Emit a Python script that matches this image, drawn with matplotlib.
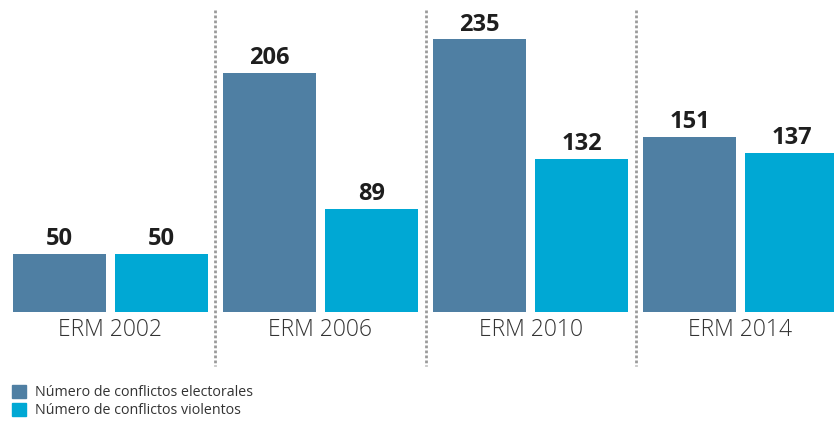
import numpy as np
import matplotlib.pyplot as plt
from matplotlib.patches import Rectangle

categories = ['ERM 2002', 'ERM 2006', 'ERM 2010', 'ERM 2014']
electorales = [50, 206, 235, 151]
violentos = [50, 89, 132, 137]
legend_labels = ['Número de conflictos electorales', 'Número de conflictos violentos']

color_elec = '#4f7fa3'
color_viol = '#00a8d4'

plt.rcParams['font.family'] = ['Open Sans', 'DejaVu Sans']

fig = plt.figure(figsize=(8.34, 4.22), dpi=100)
ax = fig.add_axes([0, 110 / 422, 1, 312 / 422])

x = np.arange(len(categories))
width = 0.443
offset = 0.243

b1 = ax.bar(x - offset, electorales, width, color=color_elec)
b2 = ax.bar(x + offset, violentos, width, color=color_viol)

for bars in (b1, b2):
    for rect in bars:
        h = rect.get_height()
        ax.annotate(f'{h:g}', (rect.get_x() + rect.get_width() / 2, h),
                    xytext=(0, 2), textcoords='offset points',
                    ha='center', va='bottom', fontsize=17, fontweight='bold',
                    color='#1e1e1e')

for i, cat in enumerate(categories):
    ax.text(i, -5, cat, ha='center', va='top', fontsize=16.5,
            fontweight='light', color='#333333')

# dotted separators between groups
for xs in x[:-1] + 0.5:
    ax.plot([xs, xs], [0.968, -0.173], transform=ax.get_xaxis_transform(),
            color='#9a9a9a', linewidth=2, linestyle=(0, (1, 0.8)), clip_on=False)

ax.set_xlim(-0.526, 3.445)
ax.set_ylim(0, 269)
ax.axis('off')

# legend
for j, (lab, col) in enumerate(zip(legend_labels, [color_elec, color_viol])):
    y0 = 1 - (385 + 18 * j + 13) / 422
    fig.patches.append(Rectangle((12 / 834, y0), 14 / 834, 13 / 422,
                                 transform=fig.transFigure, color=col))
    fig.text(35 / 834, y0 + 6 / 422, lab, ha='left', va='center',
             fontsize=10.3, color='#333333')

plt.savefig('out.png', dpi=100)
